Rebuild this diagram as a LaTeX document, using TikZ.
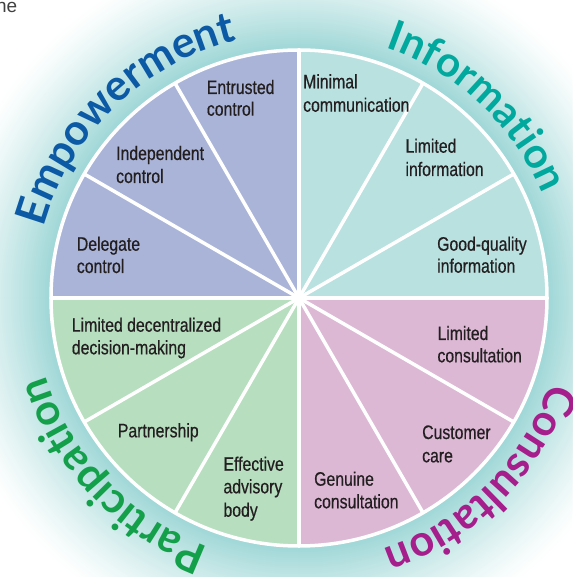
\documentclass[tikz,border=0pt]{standalone}
\usepackage{fontspec}
\setmainfont{Liberation Sans}
\newfontfamily\labfont{Liberation Sans}[FakeStretch=0.81,FakeBold=0.5]
\newfontfamily\titlefam{Lato}[LetterSpace=4]
\newfontfamily\titlefamB{Lato}
\newfontfamily\titlefamC{Lato}[LetterSpace=7.5]
\usetikzlibrary{decorations.text}
\definecolor{empc}{RGB}{169,180,216}
\definecolor{infc}{RGB}{185,225,224}
\definecolor{conc}{RGB}{220,184,213}
\definecolor{parc}{RGB}{183,222,191}
\definecolor{glowc}{RGB}{160,215,215}
\definecolor{empt}{RGB}{12,90,165}
\definecolor{inft}{RGB}{0,168,157}
\definecolor{cont}{RGB}{165,30,140}
\definecolor{part}{RGB}{20,160,75}
\definecolor{labt}{RGB}{35,31,32}
\newcommand\ttlfont{\titlefam\bfseries\fontsize{43}{43}\selectfont}
\newcommand\ttlfontB{\titlefamB\bfseries\fontsize{42}{42}\selectfont}
\newcommand\ttlfontC{\titlefamC\bfseries\fontsize{43}{43}\selectfont}
\begin{document}
\begin{tikzpicture}[x=1pt,y=1pt,
  lab/.style={font=\labfont\fontsize{19.5}{22.5}\selectfont, text=labt, inner sep=0pt, anchor=base west},
  divider/.style={white, line width=3.5pt}]
\useasboundingbox (-299,-279) rectangle (273,298);
\clip (-299,-279) rectangle (273,298);
\fill[white] (-299,-279) rectangle (273,298);
% glow
\foreach \r in {360,358,...,250}{
  \pgfmathsetmacro\p{100*((360-\r)/110)^1.3}
  \fill[glowc!\p!white] (0,0) circle (\r pt);
}
\coordinate (c) at (0,0);
% quadrants
\fill[infc] (c) -- (0:248pt) arc[start angle=0,end angle=90,radius=248pt] -- cycle;
\fill[empc] (c) -- (90:248pt) arc[start angle=90,end angle=180,radius=248pt] -- cycle;
\fill[parc] (c) -- (180:248pt) arc[start angle=180,end angle=270,radius=248pt] -- cycle;
\fill[conc] (c) -- (270:248pt) arc[start angle=270,end angle=360,radius=248pt] -- cycle;
\foreach \a in {0,30,...,330}{\draw[divider] (c) -- (\a:248pt);}
\draw[white, line width=3.5pt] (c) circle (248pt);
% labels
\node[lab] (ent1) at (-92.3,204) {Entrusted};
\node[lab] (ent2) at (-92.3,182.3) {control};
\node[lab] (ind1) at (-183,138) {Independent};
\node[lab] (ind2) at (-183,115) {control};
\node[lab] (del1) at (-222.3,47.3) {Delegate};
\node[lab] (del2) at (-222.3,25) {control};
\node[lab] (min1) at (4,209.7) {Minimal};
\node[lab] (min2) at (4,186.3) {communication};
\node[lab] (lim1) at (106.3,145.3) {Limited};
\node[lab] (lim2) at (106.3,122) {information};
\node[lab] (goo1) at (138,47.3) {Good-quality};
\node[lab] (goo2) at (138,25.3) {information};
\node[lab] (lco1) at (138.3,-42) {Limited};
\node[lab] (lco2) at (138.3,-64.3) {consultation};
\node[lab] (cus1) at (123,-141) {Customer};
\node[lab] (cus2) at (123,-164.3) {care};
\node[lab] (gen1) at (15,-187.7) {Genuine};
\node[lab] (gen2) at (15,-210.3) {consultation};
\node[lab] (eff1) at (-75.7,-172.7) {Effective};
\node[lab] (eff2) at (-75.7,-195.3) {advisory};
\node[lab] (eff3) at (-75.7,-218.7) {body};
\node[lab] (par1) at (-181.3,-139.3) {Partnership};
\node[lab] (ldm1) at (-227.3,-33.7) {Limited decentralized};
\node[lab] (ldm2) at (-227.3,-56.3) {decision-making};
% titles
\path[decorate, decoration={text along path, text align=center,
  text={|\ttlfont\color{empt}|Empowerment}}]
  (179.5:265pt) arc[start angle=179.5, end angle=88.5, radius=265pt];
\path[decorate, decoration={text along path, text align=center,
  text={|\ttlfontB\color{inft}|Information}}]
  (92:265pt) arc[start angle=92, end angle=2, radius=265pt];
\path[decorate, decoration={text along path, text align=center,
  text={|\ttlfont\color{cont}|Consultation}}]
  (360:265pt) arc[start angle=360, end angle=270, radius=265pt];
\path[decorate, decoration={text along path, text align=center,
  text={|\ttlfontC\color{part}|Participation}}]
  (268.5:265pt) arc[start angle=268.5, end angle=178.5, radius=265pt];
% cropped fragment
\node[font=\fontsize{19}{19}\selectfont, text=black!75, inner sep=0pt, anchor=base east] (ne) at (-281.5,285.3) {ne};
\end{tikzpicture}
\end{document}
